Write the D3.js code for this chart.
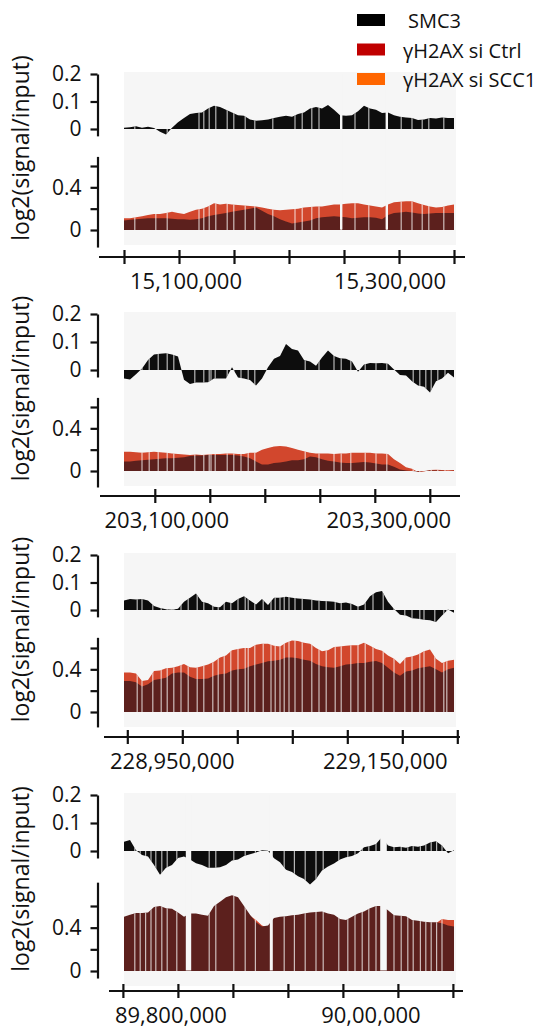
<!DOCTYPE html>
<html>
<head>
<meta charset="utf-8">
<script src="https://cdn.jsdelivr.net/npm/d3@7"></script>
<style>
  body { margin: 0; background: #fff; }
  svg { display: block; font-family: "Open Sans", sans-serif; }
</style>
</head>
<body>
<svg id="chart" width="550" height="1030"></svg>
<script>
// genomic windows shown in the 4 panels
let regionStarts = [15050000, 203072000, 228897000, 89751000];
let regionEnds   = [15350000, 203372000, 229197000, 90051000];
let tickStarts   = [15050000, 203100000, 228900000, 89750000];
let tickEnds     = [15350000, 203350000, 229200000, 90050000];
let labelValues  = [[15100000, 15300000], [203100000, 203300000], [228950000, 229150000], [89800000, 90000000]];
let labelTexts   = [["15,100,000", "15,300,000"], ["203,100,000", "203,300,000"], ["228,950,000", "229,150,000"], ["89,800,000", "90,00,000"]];

let seriesNames  = ["SMC3", "\u03b3H2AX si Ctrl", "\u03b3H2AX si SCC1"];

// log2(signal/input), 56 bins per window
let smc3_1 = [0.005, 0.006, 0.01, 0.005, 0.008, 0.004, -0.01, -0.02,
              0.005, 0.025, 0.04, 0.055, 0.058, 0.06, 0.075, 0.085,
              0.08, 0.07, 0.06, 0.05, 0.048, 0.035, 0.03, 0.032,
              0.035, 0.04, 0.045, 0.048, 0.045, 0.055, 0.06, 0.075,
              0.08, 0.075, 0.087, 0.07, 0.05, 0.048, 0.05, 0.065,
              0.085, 0.075, 0.07, 0.058, 0.06, 0.05, 0.045, 0.042,
              0.04, 0.033, 0.035, 0.04, 0.038, 0.042, 0.04, 0.04];
let ctrl_1 = [0.09, 0.095, 0.1, 0.105, 0.11, 0.11, 0.11, 0.11,
              0.105, 0.1, 0.1, 0.095, 0.1, 0.11, 0.13, 0.14,
              0.15, 0.16, 0.17, 0.18, 0.19, 0.2, 0.21, 0.18,
              0.15, 0.13, 0.1, 0.08, 0.06, 0.07, 0.08, 0.09,
              0.11, 0.12, 0.125, 0.13, 0.125, 0.12, 0.11, 0.115,
              0.12, 0.12, 0.115, 0.1, 0.14, 0.16, 0.165, 0.17,
              0.165, 0.155, 0.15, 0.155, 0.16, 0.16, 0.16, 0.16];
let scc1_1 = [0.11, 0.11, 0.12, 0.13, 0.14, 0.15, 0.15, 0.16,
              0.17, 0.16, 0.15, 0.17, 0.19, 0.2, 0.22, 0.25,
              0.24, 0.245, 0.24, 0.235, 0.23, 0.225, 0.22, 0.21,
              0.2, 0.19, 0.185, 0.19, 0.195, 0.2, 0.21, 0.215,
              0.22, 0.22, 0.23, 0.24, 0.24, 0.245, 0.25, 0.25,
              0.24, 0.23, 0.22, 0.21, 0.24, 0.26, 0.265, 0.27,
              0.27, 0.25, 0.235, 0.22, 0.21, 0.215, 0.23, 0.24];

let smc3_2 = [-0.03, -0.034, -0.015, 0.005, 0.036, 0.055, 0.058, 0.06,
              0.055, 0.048, -0.035, -0.05, -0.045, -0.045, -0.044, -0.03,
              -0.03, -0.03, 0.01, -0.027, -0.03, -0.036, -0.055, -0.03,
              0.01, 0.04, 0.05, 0.093, 0.075, 0.07, 0.036, 0.03,
              0.015, 0.045, 0.07, 0.05, 0.042, 0.04, 0.03, -0.006,
              0.02, 0.025, 0.024, 0.025, 0.022, 0.002, -0.018, -0.02,
              -0.04, -0.055, -0.06, -0.08, -0.04, -0.03, -0.01, -0.027];
let ctrl_2 = [0.09, 0.09, 0.095, 0.1, 0.105, 0.11, 0.115, 0.12,
              0.12, 0.125, 0.13, 0.14, 0.145, 0.145, 0.15, 0.15,
              0.15, 0.15, 0.15, 0.145, 0.135, 0.12, 0.09, 0.06,
              0.06, 0.075, 0.08, 0.09, 0.1, 0.1, 0.11, 0.135,
              0.13, 0.11, 0.095, 0.09, 0.08, 0.075, 0.075, 0.08,
              0.085, 0.08, 0.07, 0.06, 0.06, 0.04, 0.015, 0.005,
              0, -0.005, 0, 0.005, 0.005, 0.003, 0, 0.002];
let scc1_2 = [0.18, 0.18, 0.175, 0.17, 0.175, 0.18, 0.175, 0.17,
              0.165, 0.16, 0.155, 0.15, 0.155, 0.15, 0.155, 0.16,
              0.16, 0.165, 0.165, 0.16, 0.16, 0.17, 0.17, 0.2,
              0.215, 0.23, 0.235, 0.23, 0.215, 0.2, 0.185, 0.17,
              0.165, 0.165, 0.165, 0.16, 0.165, 0.165, 0.17, 0.17,
              0.17, 0.17, 0.165, 0.165, 0.16, 0.11, 0.075, 0.035,
              0.02, -0.01, -0.005, 0.01, 0.012, 0.01, 0.008, 0.01];

let smc3_3 = [0.035, 0.04, 0.038, 0.04, 0.035, 0.015, 0.007, 0.003,
              0.001, 0.005, 0.03, 0.045, 0.06, 0.03, 0.025, 0.012,
              0.01, 0.03, 0.025, 0.04, 0.05, 0.035, 0.02, 0.04,
              0.018, 0.045, 0.045, 0.048, 0.045, 0.042, 0.04, 0.038,
              0.035, 0.033, 0.032, 0.03, 0.025, 0.027, 0.022, 0.012,
              0.02, 0.05, 0.065, 0.069, 0.03, 0.004, -0.017, -0.02,
              -0.03, -0.032, -0.035, -0.037, -0.044, -0.02, 0.002, -0.01];
let ctrl_3 = [0.29, 0.29, 0.28, 0.24, 0.26, 0.3, 0.31, 0.32,
              0.36, 0.37, 0.37, 0.33, 0.31, 0.31, 0.315, 0.34,
              0.355, 0.36, 0.39, 0.4, 0.405, 0.43, 0.445, 0.46,
              0.475, 0.48, 0.49, 0.51, 0.51, 0.505, 0.49, 0.48,
              0.45, 0.43, 0.42, 0.415, 0.43, 0.445, 0.45, 0.46,
              0.46, 0.47, 0.477, 0.46, 0.415, 0.37, 0.34, 0.38,
              0.39, 0.41, 0.42, 0.43, 0.4, 0.37, 0.4, 0.415];
let scc1_3 = [0.37, 0.37, 0.36, 0.29, 0.3, 0.385, 0.39, 0.41,
              0.415, 0.43, 0.45, 0.42, 0.415, 0.43, 0.446, 0.47,
              0.51, 0.53, 0.58, 0.59, 0.6, 0.6, 0.63, 0.64,
              0.64, 0.62, 0.615, 0.65, 0.67, 0.665, 0.65, 0.64,
              0.6, 0.57, 0.58, 0.61, 0.615, 0.62, 0.625, 0.625,
              0.65, 0.62, 0.59, 0.575, 0.53, 0.5, 0.45, 0.51,
              0.52, 0.54, 0.57, 0.585, 0.5, 0.46, 0.48, 0.49];

let smc3_4 = [0.033, 0.039, 0.003, -0.014, -0.02, -0.05, -0.085, -0.06,
              -0.05, -0.025, -0.02, -0.03, -0.044, -0.05, -0.06, -0.06,
              -0.058, -0.05, -0.034, -0.03, -0.018, -0.012, -0.005, 0.003,
              0.001, -0.026, -0.04, -0.067, -0.075, -0.09, -0.1, -0.12,
              -0.1, -0.07, -0.055, -0.045, -0.03, -0.022, -0.018, -0.008,
              0.013, 0.018, 0.025, 0.05, 0.02, 0.013, 0.015, 0.012,
              0.018, 0.015, 0.02, 0.03, 0.035, 0.02, -0.008, 0.003];
let ctrl_4 = [0.5, 0.52, 0.535, 0.535, 0.54, 0.59, 0.6, 0.58,
              0.575, 0.54, 0.5, 0.53, 0.53, 0.52, 0.51, 0.6,
              0.64, 0.68, 0.7, 0.68, 0.6, 0.52, 0.45, 0.41,
              0.42, 0.49, 0.5, 0.505, 0.515, 0.52, 0.53, 0.54,
              0.545, 0.55, 0.53, 0.52, 0.48, 0.47, 0.5, 0.53,
              0.55, 0.58, 0.6, 0.6, 0.56, 0.515, 0.51, 0.505,
              0.47, 0.465, 0.455, 0.45, 0.45, 0.44, 0.42, 0.41];
let scc1_4 = [0.48, 0.5, 0.51, 0.52, 0.52, 0.56, 0.58, 0.56,
              0.55, 0.52, 0.48, 0.51, 0.51, 0.5, 0.49, 0.57,
              0.61, 0.66, 0.68, 0.66, 0.58, 0.51, 0.47, 0.42,
              0.4, 0.47, 0.48, 0.48, 0.49, 0.5, 0.51, 0.52,
              0.52, 0.53, 0.51, 0.5, 0.46, 0.45, 0.48, 0.51,
              0.53, 0.56, 0.58, 0.58, 0.54, 0.5, 0.49, 0.49,
              0.45, 0.45, 0.44, 0.44, 0.44, 0.48, 0.47, 0.47];

// bins without reads (thin white lines) and wider missing stretches, in bin units
let stripes_1 = [1.8, 5.3, 7.2, 12.5, 13.3, 14.2, 15.3, 17.2, 18.3, 20.2, 21.8, 24.8, 28.5, 29.7, 31.3, 32.5, 36.2, 38.5, 40.8, 43.8, 46.2, 48.0, 49.7, 50.8, 53.3];
let stripes_2 = [3.0, 4.2, 5.7, 7.2, 8.3, 11.8, 13.3, 14.2, 14.5, 15.2, 17.2, 18.3, 19.5, 20.7, 21.8, 30.2, 32.5, 35.0, 36.2, 37.8, 40.2, 42.0, 43.8, 48.2, 49.3, 50.3, 51.2, 52.3, 53.5];
let stripes_3 = [2.2, 3.0, 4.8, 6.2, 7.2, 8.3, 9.5, 10.7, 12.2, 13.3, 14.8, 15.7, 16.7, 17.8, 19.0, 20.2, 20.7, 21.8, 23.2, 24.5, 25.2, 26.0, 26.7, 27.5, 28.5, 29.7, 31.3, 32.5, 33.7, 35.2, 36.2, 37.8, 39.0, 40.2, 41.5, 43.2, 45.0, 46.8, 48.0, 49.3, 50.0, 51.8, 53.3, 53.8];
let stripes_4 = [1.8, 2.7, 3.6, 4.5, 5.3, 6.3, 7.2, 8.8, 14.2, 15.3, 18.3, 20.2, 21.9, 26.7, 28.4, 30.2, 32.0, 33.2, 35.8, 37.3, 38.5, 39.7, 40.8, 42.0, 45.0, 46.2, 47.3, 48.2, 49.4, 50.3, 51.2, 52.1, 53.0];
let gaps_1 = [[36.0, 36.4], [43.6, 44.0]];
let gaps_2 = [];
let gaps_3 = [];
let gaps_4 = [[10.3, 11.2], [24.3, 24.8], [42.7, 43.8]];

let smc3 = [smc3_1, smc3_2, smc3_3, smc3_4];
let ctrl = [ctrl_1, ctrl_2, ctrl_3, ctrl_4];
let scc1 = [scc1_1, scc1_2, scc1_3, scc1_4];
let stripes = [stripes_1, stripes_2, stripes_3, stripes_4];
let gaps = [gaps_1, gaps_2, gaps_3, gaps_4];

let colors = { smc3: "#0d0d0d", ctrl: "#5c201d", scc1: "#d2472d", bg: "#f6f6f6" };
let legendColors = ["#000000", "#c00000", "#ff6600"];

// panel placement (pixels)
let layout = [
  { up02: 74,  up0: 129, lo06: 166, lo0: 230, loTop: 0.69, loBot: -0.16, xAxis: 257, ax0: 99,  ax1: 465, labelDx: [7, -9] },
  { up02: 314, up0: 370, lo06: 407, lo0: 471, loTop: 0.69, loBot: -0.15, xAxis: 496, ax0: 100, ax1: 460, labelDx: [12, 14] },
  { up02: 555, up0: 610, lo06: 648, lo0: 712, loTop: 0.70, loBot: -0.14, xAxis: 737, ax0: 104, ax1: 460, labelDx: [-10, -17] },
  { up02: 795, up0: 851, lo06: 906, lo0: 971, loTop: 0.82, loBot: -0.065, xAxis: 991, ax0: 109, ax1: 463, labelDx: [-7, -27] }
];

let svg = d3.select("#chart");
let yAxisX = 97.5;
let nBins = 56;

function styleAxis(g) {
  g.attr("font-family", null).attr("font-size", null);
  g.selectAll("path, line").attr("stroke", "#111").attr("stroke-width", 2.2);
  g.selectAll("text").attr("fill", "#111").style("font-size", "21px");
}

function drawTrack(g, x, pos, series, color, y) {
  let area = d3.area()
    .x(function(d, k) { return x(pos[k]); })
    .y0(y(0))
    .y1(function(d) { return y(d); });
  g.append("path").attr("d", area(series)).attr("fill", color);
  return area(series);
}

function drawPanel(i) {
  let L = layout[i];
  let x = d3.scaleLinear().domain([regionStarts[i], regionEnds[i]]).range([124, 454]);
  let step = (regionEnds[i] - regionStarts[i]) / (nBins - 1);
  let binPos = function(b) { return regionStarts[i] + b * step; };
  let pos = d3.range(nBins).map(binPos);

  let yUp = d3.scaleLinear().domain([0, 0.2]).range([L.up0, L.up02]);
  let yLo = d3.scaleLinear().domain([0, 0.6]).range([L.lo0, L.lo06]);

  let panel = svg.append("g").attr("class", "panel");

  // background
  panel.append("rect")
    .attr("x", x(regionStarts[i])).attr("width", x(regionEnds[i]) - x(regionStarts[i]) + 2)
    .attr("y", yUp(0.2) - 2).attr("height", yLo(0) + 15 - yUp(0.2) + 2)
    .attr("fill", colors.bg);

  // SMC3 track
  let upG = panel.append("g");
  let upPath = drawTrack(upG, x, pos, smc3[i], colors.smc3, yUp);

  // gH2AX tracks: siSCC1 behind, siCtrl in front
  let loG = panel.append("g");
  let loPathA = drawTrack(loG, x, pos, scc1[i], colors.scc1, yLo);
  let loPathB = drawTrack(loG, x, pos, ctrl[i], colors.ctrl, yLo);

  // thin empty bins, clipped to the filled areas
  let clip = svg.append("clipPath").attr("id", "clip" + i);
  [upPath, loPathA, loPathB].forEach(function(p) { clip.append("path").attr("d", p); });
  panel.append("g").attr("clip-path", "url(#clip" + i + ")")
    .selectAll("line").data(stripes[i]).enter().append("line")
    .attr("x1", function(d) { return x(binPos(d)); })
    .attr("x2", function(d) { return x(binPos(d)); })
    .attr("y1", yUp(0.25)).attr("y2", yLo(-0.1))
    .attr("stroke", "#fff").attr("stroke-opacity", 0.7).attr("stroke-width", 1.2);

  // missing stretches
  panel.append("g").selectAll("rect").data(gaps[i]).enter().append("rect")
    .attr("x", function(d) { return x(binPos(d[0])); })
    .attr("width", function(d) { return x(binPos(d[1])) - x(binPos(d[0])); })
    .attr("y", yUp(0.2)).attr("height", yLo(0) - yUp(0.2) - 0.5)
    .attr("fill", colors.bg);

  // y axes
  let yUpAxis = yUp.copy().domain([-0.025, 0.2]).range([yUp(-0.025), yUp(0.2)]);
  panel.append("g").attr("transform", "translate(" + yAxisX + ",0)")
    .call(d3.axisLeft(yUpAxis).tickValues([0, 0.1, 0.2]).tickFormat(d3.format("")).tickSize(7).tickPadding(9).tickSizeOuter(0))
    .call(styleAxis);

  let yLoAxis = yLo.copy().domain([L.loBot, L.loTop]).range([yLo(L.loBot), yLo(L.loTop)]);
  panel.append("g").attr("transform", "translate(" + yAxisX + ",0)")
    .call(d3.axisLeft(yLoAxis).tickValues([0, 0.2, 0.4, 0.6])
      .tickFormat(function(d) { return d === 0 ? "0" : (d === 0.4 ? "0.4" : ""); })
      .tickSize(7).tickPadding(9).tickSizeOuter(0))
    .call(styleAxis);

  // y title
  panel.append("text")
    .attr("transform", "translate(29," + ((yUp(0.2) + yLo(0)) / 2 - 4) + ") rotate(-90)")
    .attr("text-anchor", "middle")
    .style("font-size", "23px").attr("fill", "#111")
    .text("log2(signal/input)");

  // x axis
  let gx = panel.append("g").attr("transform", "translate(0," + L.xAxis + ")")
    .call(d3.axisBottom(x).tickValues(d3.range(tickStarts[i], tickEnds[i] + 1, 50000)).tickFormat("").tickSizeOuter(0))
    .call(styleAxis);
  gx.select(".domain").remove();
  gx.selectAll(".tick line").attr("y1", -7).attr("y2", 7);
  gx.append("line").attr("x1", L.ax0).attr("x2", L.ax1)
    .attr("stroke", "#111").attr("stroke-width", 2.2);

  gx.selectAll(".pos-label").data(labelValues[i]).enter().append("text")
    .attr("class", "pos-label")
    .attr("x", function(d, j) { return x(d) + L.labelDx[j]; })
    .attr("y", 32)
    .attr("text-anchor", "middle")
    .style("font-size", "22px").attr("fill", "#111")
    .text(function(d, j) { return labelTexts[i][j]; });
}

for (let i = 0; i < 4; i++) drawPanel(i);

// legend
let legend = svg.append("g").selectAll("g").data(seriesNames).enter().append("g")
  .attr("transform", function(d, k) { return "translate(357," + (14 + k * 29.5) + ")"; });
legend.append("rect").attr("width", 28).attr("height", 12)
  .attr("fill", function(d, k) { return legendColors[k]; });
legend.append("text")
  .attr("x", function(d, k) { return k === 0 ? 51 : 46; })
  .attr("y", 14)
  .style("font-size", "20px").attr("fill", "#111")
  .text(function(d) { return d; });
</script>
</body>
</html>
